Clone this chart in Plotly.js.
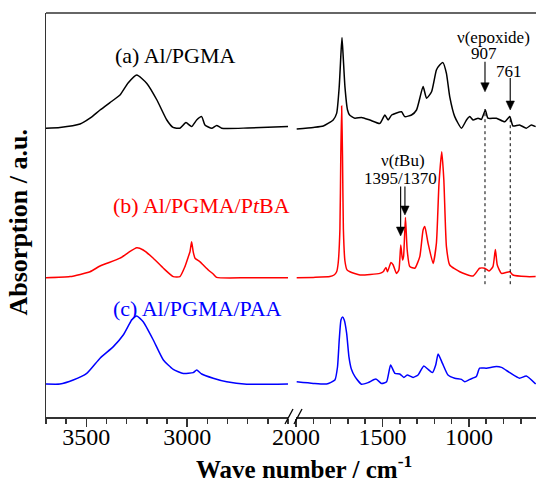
<!DOCTYPE html>
<html>
<head>
<meta charset="utf-8">
<script src="https://cdn.plot.ly/plotly-3.0.1.min.js"></script>
<style>html,body{margin:0;padding:0;background:#fff;}#chart{width:536px;height:481px;}</style>
</head>
<body>
<div id="chart"></div>
<script>
// Wavenumbers (cm-1) and stacked absorbance (a.u.)
const wnA = [3700,3631,3531,3482,3432,3383,3333,3293,3250,3200,3150,3101,3070,3036,3006,2978,2953,2928,2912,2878,2854,2829,2700,2500,
  1996,1900,1842,1785,1765,1750,1740,1734,1727,1717,1702,1690,1659,1621,1573,1515,1486,1467,1447,1390,1371,1332,1303,1265,1245,1216,1188,1169,1150,1130,1111,1082,1043,1014,995,976,947,928,905,890,841,793,764,745,707,668,639,614];
const absA = [72.2,72.4,73.25,74.7,76.75,78.6,80.5,83.5,85.5,83.4,79.25,74.25,72.4,72.2,73.6,72.6,74.25,75.1,73,72.2,72.9,72.2,72.25,72.6,
  72,72.4,72.75,74.25,75.9,82.6,90.9,94.9,90.1,82.6,76.75,75.5,74.7,74.9,74.25,73.4,75.5,74.25,75.5,76.3,75.1,75.5,76.75,82.6,79.7,81.3,86.75,88,88.6,85.9,80.1,75.1,72.2,74.25,75.1,74.25,74.7,74.4,76.75,74.7,74.7,73.8,75.1,72.75,73,72.2,73,72.6];

const wnB = [3700,3581,3482,3432,3333,3292,3250,3218,3168,3118,3069,3036,3011,2994,2986,2978,2970,2961,2936,2920,2895,2871,2854,2700,2500,
  1996,1900,1804,1780,1765,1756,1746,1741,1736,1731,1726,1717,1705,1688,1630,1515,1496,1480,1471,1451,1438,1419,1405,1394,1384,1378,1367,1357,1342,1313,1284,1265,1255,1236,1207,1188,1173,1157,1145,1130,1111,1053,976,938,909,884,861,847,836,812,764,745,668,614];
const absB = [34.8,35.1,36.3,37.75,39.7,41.1,42.3,41.75,39.7,37.2,35.1,35.1,37.6,40.1,41.3,43.8,41.3,39.7,38.8,38,36.75,35.75,34.9,34.8,34.8,
  34.8,34.9,35.1,35.5,36.3,38.5,47,65,77.75,65,47,39,36.8,36.3,35.5,35.9,36.3,37.4,36.3,38.6,38,35.9,36.75,43,39.25,40.1,49.9,41.75,37.6,37.2,40.1,46.75,47.6,43.4,38.4,43.4,58.4,66.3,59.25,42.6,38,36.3,35.25,37.2,37.2,36.5,37.6,41.9,38,35.9,36.3,35.5,35.1,35.1];

const wnC = [3700,3631,3565,3498,3432,3366,3317,3275,3250,3218,3168,3118,3069,3019,2970,2953,2928,2871,2804,2705,2500,
  1996,1900,1823,1775,1760,1750,1740,1731,1721,1707,1694,1680,1659,1621,1583,1538,1505,1476,1453,1428,1400,1376,1357,1323,1294,1261,1236,1211,1192,1178,1153,1121,1082,1043,1024,995,957,938,899,841,812,764,707,668,614];
const absC = [8.25,8.25,9.25,10.9,14.7,17.6,20.5,24.25,25.25,23.8,19.25,14.25,11.9,10.9,11.1,11.75,10.75,9.7,8.8,8.2,8.25,
  8.8,8.4,8.25,9.25,12.5,19.25,24.25,25,24.25,20.9,15.1,12,10.1,8.2,8.6,9.5,8.4,8.8,13,10.9,10.75,9.9,10.5,9.9,10.5,12.75,11.9,11.1,13,15.75,13.4,10.5,9.7,9.4,8.8,9.4,10.1,12.2,12.2,12.6,12.4,11.1,9.7,10.25,8.25];

const seriesNames = ['(a) Al/PGMA', '(b) Al/PGMA/P<i>t</i>BA', '(c) Al/PGMA/PAA'];
const seriesColors = ['#000000', '#ff0000', '#0000ff'];
const hiTicks = [3500, 3000];
const loTicks = [2000, 1500, 1000];
const epoxidePeaks = [907, 761];
const tbuPeaks = [1395, 1370];

const FONT = 'Liberation Serif, Times New Roman, serif';
const AX = '#333';

function split(wn, ab) {
  const hi = {x: [], y: []}, lo = {x: [], y: []};
  wn.forEach((w, i) => { const t = w >= 2500 ? hi : lo; t.x.push(w); t.y.push(ab[i]); });
  return [hi, lo];
}

const traces = [];
[[wnA, absA], [wnB, absB], [wnC, absC]].forEach((d, k) => {
  const [hi, lo] = split(d[0], d[1]);
  const line = {color: seriesColors[k], width: 1.5, shape: 'spline', smoothing: 0.5};
  traces.push({x: hi.x, y: hi.y, xaxis: 'x', yaxis: 'y', mode: 'lines', line: line, hoverinfo: 'skip'});
  traces.push({x: lo.x, y: lo.y, xaxis: 'x2', yaxis: 'y', mode: 'lines', line: line, hoverinfo: 'skip'});
});

function px(p) { return (p - 46) / 490; }
function py(p) { return (417 - p) / 404; }

const xBase = {
  ticks: 'outside', ticklen: 8, tickwidth: 1.5, tickcolor: AX,
  showline: true, linecolor: AX, linewidth: 1.5, showgrid: false, zeroline: false,
  anchor: 'y', tickfont: {family: FONT, size: 24, color: '#000'}, ticklabelstandoff: -10,
  minor: {ticks: 'outside', ticklen: 5, tickwidth: 1.5, tickcolor: AX, dtick: 100, tick0: 0, showgrid: false},
  tickmode: 'array'
};

const ann = [];
seriesNames.forEach((t, k) => {
  const pos = [[175, 56], [201, 205], [197.5, 308]][k];
  ann.push({text: t, xref: 'paper', yref: 'paper', x: px(pos[0]), y: py(pos[1]), xanchor: 'center', yanchor: 'middle',
    showarrow: false, font: {family: FONT, size: 22, color: seriesColors[k]}});
});
const small = {family: FONT, size: 17, color: '#000'};
ann.push({text: 'ν(epoxide)', xref: 'paper', yref: 'paper', x: px(493), y: py(37), xanchor: 'center', yanchor: 'middle', showarrow: false, font: small});
ann.push({text: String(epoxidePeaks[0]), xref: 'paper', yref: 'paper', x: px(484), y: py(54), xanchor: 'center', yanchor: 'middle', showarrow: false, font: small});
ann.push({text: String(epoxidePeaks[1]), xref: 'paper', yref: 'paper', x: px(508.7), y: py(71), xanchor: 'center', yanchor: 'middle', showarrow: false, font: small});
ann.push({text: 'ν(<i>t</i>Bu)', xref: 'paper', yref: 'paper', x: px(402.5), y: py(160.5), xanchor: 'center', yanchor: 'middle', showarrow: false, font: small});
ann.push({text: tbuPeaks.join('/'), xref: 'paper', yref: 'paper', x: px(400), y: py(178.5), xanchor: 'center', yanchor: 'middle', showarrow: false, font: small});
// axis titles
ann.push({text: '<b>Wave number / cm<sup>-1</sup></b>', xref: 'paper', yref: 'paper', x: px(304), y: py(467), xanchor: 'center', yanchor: 'middle', showarrow: false, font: {family: FONT, size: 25, color: '#000'}});
ann.push({text: '<b>Absorption / a.u.</b>', xref: 'paper', yref: 'paper', x: px(17.5), y: py(223), xanchor: 'center', yanchor: 'middle', textangle: -90, showarrow: false, font: {family: FONT, size: 26, color: '#000'}});

const shapes = [
  {type: 'line', xref: 'paper', yref: 'paper', x0: 0, x1: 1, y0: 1, y1: 1, line: {color: AX, width: 1.5}},
  {type: 'line', xref: 'x2', yref: 'y', x0: epoxidePeaks[0], x1: epoxidePeaks[0], y0: 33.2, y1: 77, line: {color: '#000', width: 1, dash: '3px,3px'}},
  {type: 'line', xref: 'x2', yref: 'y', x0: epoxidePeaks[1], x1: epoxidePeaks[1], y0: 33.2, y1: 74.75, line: {color: '#000', width: 1, dash: '3px,3px'}},
  {type: 'line', xref: 'paper', yref: 'paper', x0: px(285), x1: px(293), y0: py(424), y1: py(409), line: {color: '#000', width: 1.3}},
  {type: 'line', xref: 'paper', yref: 'paper', x0: px(294), x1: px(302), y0: py(424), y1: py(409), line: {color: '#000', width: 1.3}}
];
// arrows: [wavenumber, tip level, tail level] in absorbance units
const arrowSpec = [[epoxidePeaks[0], 81.3, 88.8], [epoxidePeaks[1], 76.75, 84.75], [tbuPeaks[0], 45.25, 57.6], [tbuPeaks[1], 50.5, 57.6]];
arrowSpec.forEach(a => {
  shapes.push({type: 'line', xref: 'x2', yref: 'y', x0: a[0], x1: a[0], y0: a[1] + 1, y1: a[2], line: {color: '#111', width: 1.2}});
  shapes.push({type: 'path', xref: 'x2', yref: 'y', xsizemode: 'pixel', ysizemode: 'pixel', xanchor: a[0], yanchor: a[1],
    path: 'M0,0 L-4.2,9 L4.2,9 Z', fillcolor: '#000', line: {color: '#000', width: 0.5}});
});

const layout = {
  width: 536, height: 481,
  margin: {l: 46, r: 0, t: 13, b: 64, pad: 0},
  paper_bgcolor: '#fff', plot_bgcolor: '#fff',
  showlegend: false,
  xaxis: Object.assign({}, xBase, {domain: [0, 242 / 490], range: [3700, 2500], tickvals: hiTicks}),
  xaxis2: Object.assign({}, xBase, {domain: [250 / 490, 1], range: [2000, 612], tickvals: loTicks}),
  yaxis: {domain: [0, 1], range: [0, 101], showline: true, linecolor: AX, linewidth: 1.5, ticks: '', showticklabels: false, showgrid: false, zeroline: false, anchor: 'x'},
  annotations: ann,
  shapes: shapes
};

Plotly.newPlot('chart', traces, layout, {staticPlot: true});
</script>
</body>
</html>
